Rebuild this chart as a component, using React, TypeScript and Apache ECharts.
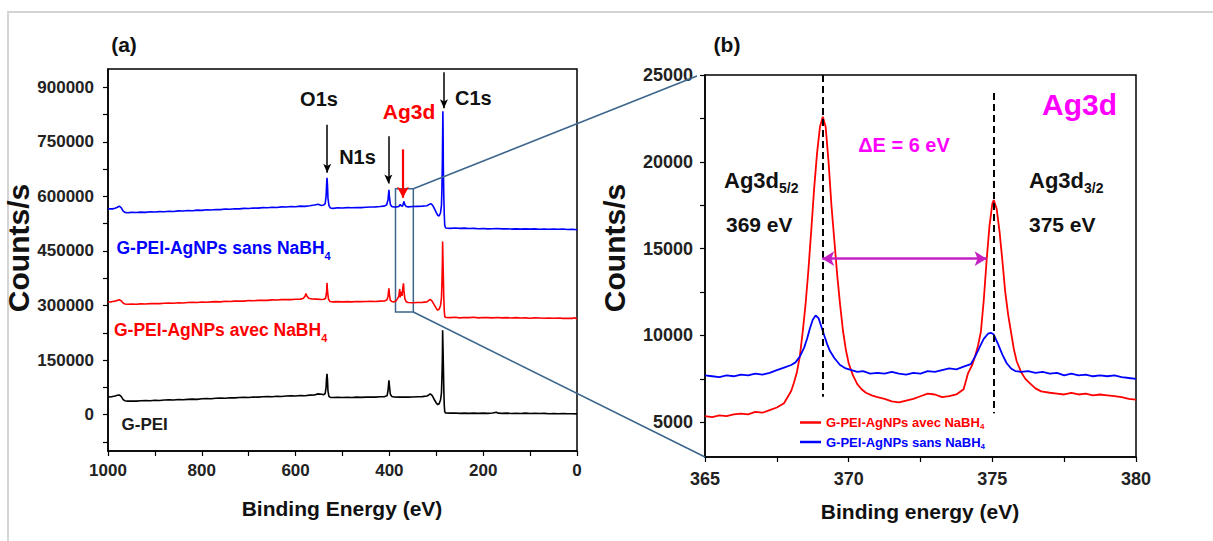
import React, { useEffect, useRef } from 'react';
import * as echarts from 'echarts';

const FONT = '"Liberation Sans", Arial, Helvetica, sans-serif';

// ---------- (a) survey spectra : [binding energy eV, counts/s] ----------
const SANS_SURVEY: number[][] = [
  [1000,565000],[995,566000],[990,565500],[985,567000],[980,570000],[976,573000],[972,569000],[968,560000],[964,556000],[958,555000],
  [950,556000],[940,555500],[930,556500],[920,556000],[910,557500],[900,557000],[890,558000],[880,557500],[870,559000],[860,558500],
  [850,560000],[840,559500],[830,561000],[820,560500],[810,562000],[800,561500],[790,563000],[780,562500],[770,564000],[760,563500],
  [750,565000],[740,564500],[730,566000],[720,565500],[710,567000],[700,566500],[690,568000],[680,567500],[670,569000],[660,568500],
  [650,570000],[640,569500],[630,571000],[620,570500],[610,572000],[600,571500],[590,573000],[580,572500],[570,574000],[560,576000],
  [552,578000],[545,575000],[540,576000],[537,580000],[535,600000],[534,630000],[533,651000],[532,630000],[531,595000],[529,575000],
  [526,568000],[520,567000],[510,568500],[500,568000],[490,569000],[480,568500],[470,569500],[460,569000],[450,570000],[440,570500],
  [430,571000],[420,572000],[412,573000],[406,576000],[403,590000],[401,618000],[400,600000],[398,578000],[395,572000],[390,570500],
  [385,571000],[380,572000],[377,578000],[375,574000],[372,573000],[369,586000],[367,577000],[364,572000],[360,571000],[350,572000],
  [340,572500],[330,573000],[320,574000],[315,578000],[312,580000],[308,576000],[304,566000],[300,555000],[297,548000],[294,546000],
  [291,555000],[289,575000],[288,620000],[287,700000],[286,834000],[285.5,780000],[285,680000],[284,600000],[283,550000],[282,520000],
  [280,513000],[270,512000],[260,513000],[250,512000],[240,512500],[230,511500],[220,512000],[210,511000],[200,511500],[190,510500],
  [180,511000],[170,511500],[160,510500],[150,511000],[140,510000],[130,510500],[120,510000],[110,510500],[100,510000],[90,510500],
  [80,509500],[70,510000],[60,509500],[50,510000],[40,509500],[30,510000],[20,509000],[10,509500],[0,508000]
];

const AVEC_SURVEY: number[][] = [
  [1000,310000],[995,309500],[990,311000],[985,312000],[980,314000],[976,316000],[972,313000],[968,307000],[964,304000],[958,303500],
  [950,304000],[940,303500],[930,304500],[920,304000],[910,305000],[900,305500],[890,305000],[880,306000],[870,306500],[860,306000],
  [850,307500],[840,307000],[830,308000],[820,308500],[810,308000],[800,309500],[790,309000],[780,310000],[770,310500],[760,310000],
  [750,311500],[740,311000],[730,312000],[720,312500],[710,312000],[700,313500],[690,313000],[680,314000],[670,314500],[660,314000],
  [650,315500],[640,315000],[630,316000],[620,316500],[610,316000],[600,317000],[590,317500],[584,319000],[580,325000],[578,333000],
  [576,326000],[572,320000],[565,318000],[555,317500],[545,316500],[540,317000],[536,320000],[534,335000],[533,362000],[532,340000],
  [530,318000],[527,311000],[520,310000],[510,310500],[500,310000],[490,310500],[480,310000],[470,311000],[460,310500],[450,311000],
  [440,311500],[430,311000],[420,312000],[410,312500],[405,316000],[403,325000],[401,347000],[400,330000],[398,314000],[395,311000],
  [390,310000],[386,312000],[383,318000],[380,325000],[378,345000],[377,322000],[376,330000],[374,338000],[373,326000],[371,352000],
  [370,361000],[369,340000],[367,318000],[364,310000],[360,308000],[350,307500],[340,308000],[330,308500],[320,310000],[316,314000],
  [313,316500],[309,312000],[305,303000],[300,292000],[297,287000],[294,290000],[291,300000],[289,320000],[288,360000],[287,420000],
  [286.5,476000],[286,440000],[285,380000],[284,320000],[283,285000],[282,270000],[280,267000],[270,266500],[260,267500],[250,266000],
  [240,267000],[230,266500],[220,267500],[210,266000],[200,267000],[190,266500],[180,266000],[170,267000],[160,266000],[150,266500],
  [140,265500],[130,266500],[120,265500],[110,266000],[100,265000],[90,266000],[80,265500],[70,265000],[60,265500],[50,265000],
  [40,265500],[30,264500],[20,265000],[10,264500],[5,266000],[0,263000]
];

const GPEI_SURVEY: number[][] = [
  [1000,49000],[995,48500],[990,50000],[985,51000],[980,53000],[976,54000],[972,50000],[968,42000],[964,38000],[958,37000],
  [950,37500],[940,37000],[930,38000],[920,38500],[910,38000],[900,39500],[890,39000],[880,40000],[870,40500],[860,40000],
  [850,41500],[840,41000],[830,42000],[820,42500],[810,42000],[800,43500],[790,44000],[780,43500],[770,45000],[760,45500],
  [750,45000],[740,46500],[730,46000],[720,47000],[710,47500],[700,47000],[690,48500],[680,48000],[670,49000],[660,49500],
  [650,49000],[640,50500],[630,50000],[620,51000],[610,51500],[600,51000],[590,52500],[580,52000],[570,53500],[560,54000],
  [552,57000],[545,56000],[540,55000],[537,58000],[535,75000],[534,100000],[533,112000],[532,95000],[531,65000],[529,50000],
  [526,47500],[520,47000],[510,47500],[500,47000],[490,47500],[480,47000],[470,48000],[460,47500],[450,48000],[440,48500],
  [430,48000],[420,49000],[410,49500],[405,52000],[403,65000],[401,94000],[400,80000],[398,56000],[395,50000],[390,48500],
  [380,48000],[370,48500],[360,48000],[350,48500],[340,49000],[330,49500],[320,51000],[316,54000],[313,57000],[309,53000],
  [305,43000],[300,32000],[297,27500],[294,30000],[291,40000],[289,60000],[288,100000],[287,160000],[286.5,232000],[286,200000],
  [285,140000],[284,70000],[283,25000],[282,8000],[280,4500],[270,4000],[260,4500],[250,3500],[240,4000],[230,3500],
  [220,4000],[210,3500],[200,4000],[190,3500],[180,4500],[172,6500],[168,4000],[160,3500],[150,4000],[140,3000],
  [130,3500],[120,3000],[110,4000],[100,3000],[90,3500],[80,3000],[70,3500],[60,2500],[50,3000],[40,2500],
  [30,3000],[20,2500],[10,2500],[0,2000]
];

// ---------- (b) Ag3d high resolution : [binding energy eV, counts/s] ----------
const AVEC_AG3D: number[][] = [
  [365,5350],[365.25,5300],[365.5,5400],[365.75,5350],[366,5450],[366.25,5500],[366.5,5450],[366.75,5600],[367,5550],[367.25,5700],
  [367.5,5850],[367.75,6100],[368,6800],[368.1,7300],[368.2,7900],[368.3,8800],[368.4,10200],[368.5,11800],[368.6,13800],[368.7,16100],
  [368.8,18500],[368.9,20500],[369,22000],[369.1,22600],[369.2,22000],[369.3,20000],[369.4,17500],[369.5,15500],[369.6,13500],[369.7,11800],
  [369.8,10300],[369.9,9200],[370,8400],[370.15,7700],[370.3,7200],[370.45,6900],[370.6,6700],[370.8,6550],[371,6450],[371.25,6350],
  [371.5,6200],[371.75,6150],[372,6250],[372.25,6350],[372.5,6500],[372.75,6650],[373,6600],[373.25,6450],[373.5,6500],[373.75,6600],
  [374,6900],[374.15,7800],[374.3,8300],[374.4,8800],[374.5,9400],[374.6,10200],[374.7,12000],[374.8,14300],[374.9,16300],[375,17600],
  [375.05,17800],[375.15,17300],[375.25,16000],[375.35,14300],[375.45,12500],[375.55,11200],[375.65,10200],[375.75,9200],[375.85,8500],[376,7900],
  [376.15,7500],[376.3,7250],[376.5,6950],[376.7,6780],[377,6700],[377.25,6650],[377.5,6600],[377.75,6700],[378,6600],[378.25,6650],
  [378.5,6550],[378.75,6600],[379,6550],[379.25,6500],[379.5,6450],[379.75,6350],[380,6300]
];

const SANS_AG3D: number[][] = [
  [365,7700],[365.25,7650],[365.5,7600],[365.75,7700],[366,7650],[366.25,7750],[366.5,7700],[366.75,7800],[367,7750],[367.25,7850],
  [367.5,8000],[367.75,8150],[368,8300],[368.15,8450],[368.3,8780],[368.45,9300],[368.55,9800],[368.65,10400],[368.75,10900],[368.85,11150],
  [368.95,11000],[369.05,10500],[369.15,10000],[369.25,9500],[369.35,9100],[369.5,8700],[369.7,8300],[369.9,8100],[370.1,8000],[370.3,7900],
  [370.5,7950],[370.75,7800],[371,7850],[371.25,7800],[371.5,7900],[371.75,7800],[372,7750],[372.25,7850],[372.5,7800],[372.75,7950],
  [373,7900],[373.25,8000],[373.5,8100],[373.75,8050],[374,8200],[374.25,8350],[374.4,8780],[374.55,9300],[374.7,9800],[374.85,10100],
  [374.95,10150],[375.05,10050],[375.2,9500],[375.35,8900],[375.5,8400],[375.65,8100],[375.8,7950],[376,7900],[376.25,7950],[376.5,7850],
  [376.75,7900],[377,7800],[377.25,7850],[377.5,7700],[377.75,7800],[378,7700],[378.25,7750],[378.5,7650],[378.75,7700],[379,7650],
  [379.25,7700],[379.5,7600],[379.75,7550],[380,7500]
];

// ---------- axis ticks / labels ----------
const SURVEY_X_TICKS = [0, 100, 200, 300, 400, 500, 600, 700, 800, 900, 1000];
const SURVEY_X_LABELS = [0, 200, 400, 600, 800, 1000];
const SURVEY_Y_TICKS = [-75000, 0, 75000, 150000, 225000, 300000, 375000, 450000, 525000, 600000, 675000, 750000, 825000, 900000];
const SURVEY_Y_LABELS = [0, 150000, 300000, 450000, 600000, 750000, 900000];
const AG_X_TICKS = [365, 367.5, 370, 372.5, 375, 377.5, 380];
const AG_X_LABELS = [365, 370, 375, 380];
const AG_Y_TICKS = [5000, 7500, 10000, 12500, 15000, 17500, 20000, 22500, 25000];
const AG_Y_LABELS = [5000, 10000, 15000, 20000, 25000];

// ---------- annotation values ----------
const PEAK_ARROWS = [
  { name: 'O1s', e: 532.6, from: 797000, to: 665000, color: '#000000' },
  { name: 'N1s', e: 402.2, from: 765000, to: 635000, color: '#000000' },
  { name: 'Ag3d', e: 371.1, from: 729000, to: 596000, color: '#ff0000' },
  { name: 'C1s', e: 283.7, from: 941000, to: 842000, color: '#000000' }
];
const ZOOM_BOX_E = [349, 387];
const ZOOM_BOX_COUNTS = [282000, 621000];
const AG_PEAKS_E = [369.1, 375.05];
const AG_DASH_TOP = [25000, 23960];
const AG_DASH_BOTTOM = [6476, 5519];
const DELTA_ARROW = { from: 369.08, to: 374.8, y: 14423 };

const N_SANS = 'G-PEI-AgNPs sans NaBH4';
const N_AVEC = 'G-PEI-AgNPs avec NaBH4';

const labelStyle = (size: number) => ({
  color: '#222', fontFamily: FONT, fontWeight: 'bold' as const, fontSize: size,
  formatter: (v: number) => String(v)
});

function txt(id: string, text: string, x: number, y: number, size: number, color = '#111', extra: any = {}) {
  return {
    type: 'text', id, x, y, rotation: extra.rotation || 0, z: 100,
    style: {
      text, fill: color, fontFamily: FONT, fontWeight: 'bold', fontSize: size,
      align: extra.align || 'center', verticalAlign: 'middle', rich: extra.rich
    }
  };
}

function subRich(main: number, sub: number, lh: number) {
  return {
    m: { fontFamily: FONT, fontWeight: 'bold', fontSize: main, lineHeight: lh },
    s: { fontFamily: FONT, fontWeight: 'bold', fontSize: sub, lineHeight: sub, verticalAlign: 'bottom' }
  };
}

export default function App() {
  const ref = useRef<HTMLDivElement>(null);
  useEffect(() => {
    document.body.style.margin = '0';
    const chart = echarts.init(ref.current!, null, { renderer: 'svg' });

    const baseGraphic: any[] = [
      { type: 'polyline', id: 'frame', z: 0, shape: { points: [[8, 541], [8, 12], [1213, 12]] }, style: { stroke: '#d4d4d4', lineWidth: 2, fill: 'none' } },
      txt('ta', '(a)', 124, 44, 21),
      txt('tb', '(b)', 727, 44, 21),
      txt('yl', 'Counts/s', 18, 248, 30, '#111', { rotation: Math.PI / 2 }),
      txt('yr', 'Counts/s', 614, 248, 30, '#111', { rotation: Math.PI / 2 }),
      txt('xl', 'Binding Energy (eV)', 342, 508, 21),
      txt('xr', 'Binding energy (eV)', 920, 511, 21),
      txt('o1s', 'O1s', 319, 99, 20),
      txt('n1s', 'N1s', 357.5, 156.5, 20),
      txt('ag3da', 'Ag3d', 409, 111.5, 21, '#ff0000'),
      txt('c1s', 'C1s', 455, 97.5, 20, '#111', { align: 'left' }),
      txt('lsans', '{m|G-PEI-AgNPs sans NaBH}{s|4}', 116.5, 248, 17.5, '#0000ff', { align: 'left', rich: subRich(17.5, 11, 26) }),
      txt('lavec', '{m|G-PEI-AgNPs avec NaBH}{s|4}', 114, 330, 17.5, '#ff0000', { align: 'left', rich: subRich(17.5, 11, 26) }),
      txt('lgpei', 'G-PEI', 121.5, 424, 17, '#1a1a1a', { align: 'left' }),
      txt('agb', 'Ag3d', 1079.5, 104.5, 30, '#ff00ff'),
      txt('de', 'ΔE = 6 eV', 904, 145, 20, '#ff00ff'),
      txt('a52', '{m|Ag3d}{s|5/2}', 724, 180, 22, '#111', { align: 'left', rich: subRich(22, 14, 30) }),
      txt('e369', '369 eV', 726, 224, 21, '#111', { align: 'left' }),
      txt('a32', '{m|Ag3d}{s|3/2}', 1029, 180, 22, '#111', { align: 'left', rich: subRich(22, 14, 30) }),
      txt('e375', '375 eV', 1029, 224, 21, '#111', { align: 'left' })
    ];

    const axisLine = { show: true, onZero: false, lineStyle: { color: '#000', width: 1.5 } };
    const tick = (vals: number[]) => ({ show: true, inside: false, length: 5, customValues: vals, lineStyle: { color: '#000', width: 1.2 } });

    const option: any = {
      animation: false,
      backgroundColor: '#ffffff',
      grid: [
        { left: 108, top: 69, width: 469, height: 382, show: true, borderColor: '#000', borderWidth: 1.5, backgroundColor: 'transparent' },
        { left: 705, top: 75, width: 431, height: 382, show: true, borderColor: '#000', borderWidth: 1.5, backgroundColor: 'transparent' }
      ],
      xAxis: [
        {
          gridIndex: 0, type: 'value', min: 0, max: 1000, interval: 100, inverse: true,
          axisLine, axisTick: tick(SURVEY_X_TICKS), splitLine: { show: false },
          axisLabel: { ...labelStyle(17), margin: 11, customValues: SURVEY_X_LABELS }
        },
        {
          gridIndex: 1, type: 'value', min: 365, max: 380, interval: 2.5,
          axisLine, axisTick: tick(AG_X_TICKS), splitLine: { show: false },
          axisLabel: { ...labelStyle(18), margin: 13, customValues: AG_X_LABELS }
        }
      ],
      yAxis: [
        {
          gridIndex: 0, type: 'value', min: -100000, max: 950000,
          axisLine, axisTick: tick(SURVEY_Y_TICKS), splitLine: { show: false },
          axisLabel: { ...labelStyle(17), margin: 14, customValues: SURVEY_Y_LABELS }
        },
        {
          gridIndex: 1, type: 'value', min: 3000, max: 25000,
          axisLine, axisTick: tick(AG_Y_TICKS), splitLine: { show: false },
          axisLabel: { ...labelStyle(18), margin: 12, customValues: AG_Y_LABELS }
        }
      ],
      legend: {
        data: [
          { name: N_AVEC, icon: 'rect', textStyle: { color: '#ff0000' } },
          { name: N_SANS, icon: 'rect', textStyle: { color: '#0000ff' } }
        ],
        orient: 'vertical', left: 795, top: 411, itemWidth: 21, itemHeight: 2.5, itemGap: 5,
        formatter: (n: string) => '{m|' + n.slice(0, -1) + '}{s|4}',
        textStyle: {
          fontFamily: FONT, fontWeight: 'bold', fontSize: 13,
          rich: {
            m: { fontFamily: FONT, fontWeight: 'bold', fontSize: 13, lineHeight: 16 },
            s: { fontFamily: FONT, fontWeight: 'bold', fontSize: 8, lineHeight: 8, verticalAlign: 'bottom' }
          }
        }
      },
      series: [
        {
          name: 'survey-sans', type: 'line', xAxisIndex: 0, yAxisIndex: 0, data: SANS_SURVEY,
          showSymbol: false, symbol: 'none', lineStyle: { color: '#0000ff', width: 1.6 }, itemStyle: { color: '#0000ff' },
          markArea: {
            silent: true,
            itemStyle: { color: 'rgba(0,0,0,0)', borderColor: '#3d668c', borderWidth: 1.5 },
            data: [[{ coord: [ZOOM_BOX_E[1], ZOOM_BOX_COUNTS[1]] }, { coord: [ZOOM_BOX_E[0], ZOOM_BOX_COUNTS[0]] }]]
          }
        },
        {
          name: 'survey-avec', type: 'line', xAxisIndex: 0, yAxisIndex: 0, data: AVEC_SURVEY,
          showSymbol: false, symbol: 'none', lineStyle: { color: '#ff0000', width: 1.6 }, itemStyle: { color: '#ff0000' }
        },
        {
          name: 'survey-gpei', type: 'line', xAxisIndex: 0, yAxisIndex: 0, data: GPEI_SURVEY,
          showSymbol: false, symbol: 'none', lineStyle: { color: '#000000', width: 1.6 }, itemStyle: { color: '#000000' },
          markLine: {
            silent: true, label: { show: false }, animation: false,
            data: PEAK_ARROWS.map((a) => [
              { coord: [a.e, a.from], symbol: 'none', lineStyle: { color: a.color, width: a.name === 'Ag3d' ? 2.2 : 1.5, type: 'solid' } },
              { coord: [a.e, a.to], symbol: 'arrow', symbolSize: a.name === 'Ag3d' ? [9, 11] : [6, 9] }
            ])
          }
        },
        {
          name: N_AVEC, type: 'line', xAxisIndex: 1, yAxisIndex: 1, data: AVEC_AG3D,
          showSymbol: false, symbol: 'none', lineStyle: { color: '#ff0000', width: 1.8 }, itemStyle: { color: '#ff0000' },
          markLine: {
            silent: true, label: { show: false }, animation: false,
            data: [
              ...AG_PEAKS_E.map((e, i) => [
                { coord: [e, AG_DASH_TOP[i]], symbol: 'none', lineStyle: { color: '#000', width: 2, type: [7, 4] } },
                { coord: [e, AG_DASH_BOTTOM[i]], symbol: 'none' }
              ]),
              [
                { coord: [DELTA_ARROW.from, DELTA_ARROW.y], symbol: 'arrow', symbolSize: [11, 12], lineStyle: { color: '#c420c4', width: 2.5, type: 'solid' } },
                { coord: [DELTA_ARROW.to, DELTA_ARROW.y], symbol: 'arrow', symbolSize: [11, 12] }
              ]
            ]
          }
        },
        {
          name: N_SANS, type: 'line', xAxisIndex: 1, yAxisIndex: 1, data: SANS_AG3D,
          showSymbol: false, symbol: 'none', lineStyle: { color: '#0000ff', width: 1.8 }, itemStyle: { color: '#0000ff' }
        }
      ],
      graphic: baseGraphic
    };

    chart.setOption(option);

    const boxTop = chart.convertToPixel({ xAxisIndex: 0, yAxisIndex: 0 }, [ZOOM_BOX_E[0], ZOOM_BOX_COUNTS[1]]) as number[];
    const boxBottom = chart.convertToPixel({ xAxisIndex: 0, yAxisIndex: 0 }, [ZOOM_BOX_E[0], ZOOM_BOX_COUNTS[0]]) as number[];
    const panelTop = chart.convertToPixel({ xAxisIndex: 1, yAxisIndex: 1 }, [365, 25000]) as number[];
    const panelBottom = chart.convertToPixel({ xAxisIndex: 1, yAxisIndex: 1 }, [365, 3000]) as number[];

    chart.setOption({
      graphic: [
        ...baseGraphic,
        { type: 'line', id: 'c1', z: 50, shape: { x1: boxTop[0], y1: boxTop[1], x2: panelTop[0] - 8, y2: panelTop[1] + 1 }, style: { stroke: '#3d668c', lineWidth: 1.6 } },
        { type: 'line', id: 'c2', z: 50, shape: { x1: boxBottom[0], y1: boxBottom[1], x2: panelBottom[0], y2: panelBottom[1] }, style: { stroke: '#3d668c', lineWidth: 1.6 } }
      ]
    });

    return () => chart.dispose();
  }, []);
  return <div ref={ref} style={{ width: 1213, height: 541 }} />;
}
